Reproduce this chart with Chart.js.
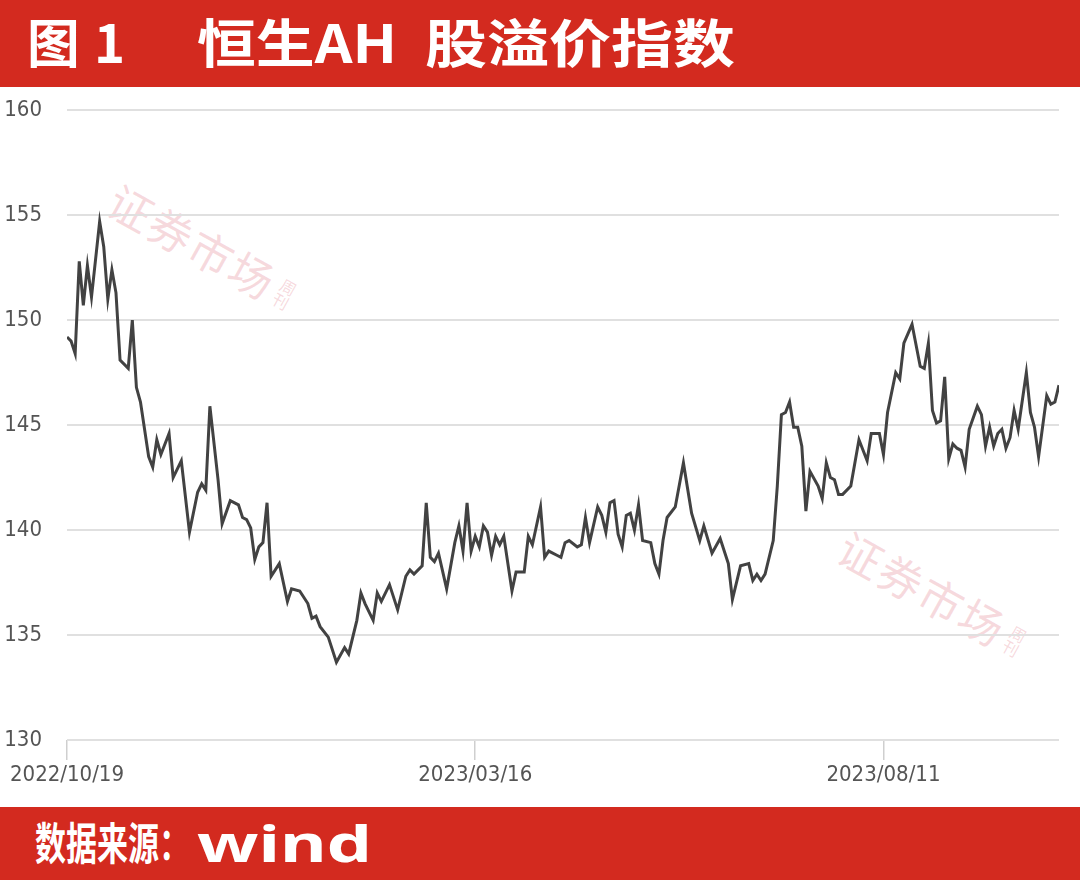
<!DOCTYPE html>
<html>
<head>
<meta charset="utf-8">
<script src="https://cdn.jsdelivr.net/npm/chart.js@4/dist/chart.umd.min.js"></script>
<style>
  html, body { margin: 0; padding: 0; background: #fff; }
  body { width: 1080px; height: 883px; position: relative; overflow: hidden; }
  .band { position: absolute; left: 0; width: 1080px; background: #d32a1f; }
  #head { top: 0; height: 87px; }
  #foot { top: 807px; height: 73px; }
  .fit { position: absolute; color: #fff; font-weight: 700; white-space: nowrap;
         line-height: 1; transform-origin: 0 0; display: inline-block; }
  .cjk { font-family: "Noto Sans CJK SC", "Noto Sans", sans-serif; }
  #wrap { position: absolute; top: 72px; left: 0; width: 1080px; height: 735px; z-index: 2; }
  .wm { position: absolute; color: rgba(226, 120, 135, 0.28); font-family: "Noto Sans CJK SC", sans-serif;
        white-space: nowrap; transform-origin: 0 0; z-index: 1; }
  .wm b { font-size: 44px; font-weight: 400; letter-spacing: 2px; }
  .wm i { font-style: normal; font-size: 16px; writing-mode: vertical-rl; margin-left: 2px; }
</style>
</head>
<body>
<div id="head" class="band">
  <span class="fit cjk" style="left:27px; top:15px; font-size:52px" data-w="98">图<span style="margin-left:14px">1</span></span>
  <span class="fit cjk" style="left:197px; top:15px; font-size:52px" data-w="200">恒生AH</span>
  <span class="fit cjk" style="left:425px; top:15px; font-size:52px" data-w="310">股溢价指数</span>
</div>
<div class="wm" style="left:128px; top:168px; transform:rotate(29deg)"><b>证券市场</b><i>周刊</i></div>
<div class="wm" style="left:858px; top:515px; transform:rotate(29deg)"><b>证券市场</b><i>周刊</i></div>
<div id="wrap"><canvas id="line-chart"></canvas></div>
<div id="foot" class="band">
  <span class="fit cjk" style="left:35px; top:12px; font-size:44px" data-w="155">数据来源：</span>
  <span class="fit" style="left:197px; top:11px; font-size:50px; font-family:'Noto Sans', sans-serif" data-w="175">wind</span>
</div>

<script>
// trading-day index since 2022/10/19
const dayIdx = [
  0, 1, 2, 3, 4, 5, 6, 8, 9, 10,
  11, 12, 13, 15, 16, 17, 18, 20, 21, 22,
  23, 25, 26, 28, 30, 32, 33, 34, 35, 37,
  38, 40, 42, 43, 44, 45, 46, 47, 48, 49,
  50, 52, 54, 55, 57, 59, 60, 61, 62, 64,
  66, 68, 69, 71, 72, 73, 75, 76, 77, 79,
  81, 83, 84, 85, 87, 88, 89, 90, 91, 93,
  95, 96, 97, 98, 99, 100, 101, 102, 103, 104,
  105, 106, 107, 109, 110, 112, 113, 114, 116, 117,
  118, 120, 121, 122, 123, 125, 126, 127, 128, 130,
  131, 132, 133, 134, 135, 136, 137, 138, 139, 140,
  141, 143, 144, 145, 146, 147, 149, 151, 153, 155,
  156, 158, 160, 162, 163, 165, 167, 168, 169, 170,
  171, 173, 174, 175, 176, 177, 178, 179, 180, 181,
  182, 184, 185, 186, 187, 188, 189, 190, 192, 194,
  196, 197, 199, 200, 201, 203, 204, 205, 207, 209,
  210, 211, 212, 213, 214, 215, 216, 217, 218, 219,
  220, 221, 223, 224, 225, 226, 227, 228, 229, 230,
  231, 232, 233, 235, 236, 237, 238, 240, 241, 242,
  243
]

// 恒生AH股溢价指数
const premium = [
  149.2, 149.0, 148.4, 152.8, 150.7, 152.6, 151.1, 154.7, 153.5, 151.0,
  152.4, 151.3, 148.1, 147.7, 150.0, 146.8, 146.1, 143.5, 143.0, 144.3,
  143.6, 144.6, 142.5, 143.3, 139.9, 141.8, 142.2, 141.9, 145.9, 142.4,
  140.3, 141.4, 141.2, 140.6, 140.5, 140.1, 138.6, 139.2, 139.4, 141.3,
  137.8, 138.4, 136.6, 137.2, 137.1, 136.5, 135.8, 135.9, 135.4, 134.9,
  133.7, 134.4, 134.1, 135.7, 137.0, 136.5, 135.7, 137.0, 136.6, 137.4,
  136.2, 137.8, 138.1, 137.9, 138.3, 141.3, 138.7, 138.5, 138.9, 137.2,
  139.4, 140.2, 139.0, 141.3, 139.0, 139.7, 139.2, 140.2, 139.9, 138.8,
  139.7, 139.3, 139.7, 137.1, 138.0, 138.0, 139.7, 139.3, 141.1, 138.7,
  139.0, 138.8, 138.7, 139.4, 139.5, 139.2, 139.3, 140.6, 139.4, 141.1,
  140.7, 139.9, 141.3, 141.4, 139.8, 139.2, 140.7, 140.8, 140.0, 141.2,
  139.5, 139.4, 138.4, 137.9, 139.5, 140.6, 141.1, 143.2, 140.8, 139.5,
  140.2, 138.9, 139.6, 138.4, 136.7, 138.3, 138.4, 137.6, 137.9, 137.6,
  137.9, 139.5, 142.1, 145.5, 145.6, 146.1, 144.9, 144.9, 144.0, 140.9,
  142.8, 142.1, 141.5, 143.2, 142.5, 142.4, 141.7, 141.7, 142.1, 144.3,
  143.3, 144.6, 144.6, 143.6, 145.6, 147.5, 147.2, 148.9, 149.8, 147.8,
  147.7, 148.9, 145.7, 145.1, 145.2, 147.3, 143.4, 144.1, 143.9, 143.8,
  143.0, 144.8, 145.9, 145.5, 144.0, 144.9, 144.0, 144.6, 144.8, 143.9,
  144.4, 145.7, 144.8, 147.5, 145.6, 144.9, 143.5, 146.4, 146.0, 146.1,
  146.9
]

const tickIdx = [0, 100, 200]
const tickLabels = ["2022/10/19", "2023/03/16", "2023/08/11"]
const yTicks = [130, 135, 140, 145, 150, 155, 160]

const tickFont = { family: '"DejaVu Sans Condensed", "Liberation Sans Narrow", sans-serif', size: 22 }

function fitText() {
  document.querySelectorAll(".fit").forEach(function (el) {
    let w = el.getBoundingClientRect().width
    let target = parseFloat(el.dataset.w)
    el.style.transform = "scaleX(" + (target / w) + ")"
  })
}

function initializeLineChart() {
  let ctx = document.getElementById("line-chart").getContext("2d")
  let points = dayIdx.map(function (d, i) { return { x: d, y: premium[i] } })
  new Chart(ctx, {
    type: "line",
    data: {
      datasets: [
        {
          label: "恒生AH股溢价指数",
          data: points,
          borderColor: "#424242",
          borderWidth: 3,
          tension: 0,
          pointRadius: 0,
          fill: false,
        },
      ],
    },
    options: {
      responsive: true,
      maintainAspectRatio: false,
      animation: false,
      layout: { padding: { top: 9, right: 21, left: 0, bottom: 0 } },
      plugins: { legend: { display: false }, tooltip: { enabled: false } },
      scales: {
        x: {
          type: "linear",
          min: 0,
          max: 243,
          afterFit: function (axis) { axis.height = 67 },
          afterBuildTicks: function (axis) {
            axis.ticks = tickIdx.map(function (v) { return { value: v } })
          },
          border: { display: false },
          grid: { drawOnChartArea: false, drawTicks: true, tickLength: 20, color: "#cfcfcf", lineWidth: 1.5 },
          ticks: {
            autoSkip: false,
            maxRotation: 0,
            padding: 2,
            color: "#555",
            font: tickFont,
            callback: function (v) { return tickLabels[tickIdx.indexOf(v)] },
          },
        },
        y: {
          min: 130,
          max: 160,
          afterFit: function (axis) { axis.width = 67 },
          afterBuildTicks: function (axis) {
            axis.ticks = yTicks.map(function (v) { return { value: v } })
          },
          border: { display: false },
          grid: { drawTicks: false, color: "#e0e0e0", lineWidth: 2 },
          ticks: { padding: 25, color: "#555", font: tickFont },
        },
      },
    },
  })
}

document.fonts.ready.then(function () {
  fitText()
  initializeLineChart()
})
</script>
</body>
</html>
